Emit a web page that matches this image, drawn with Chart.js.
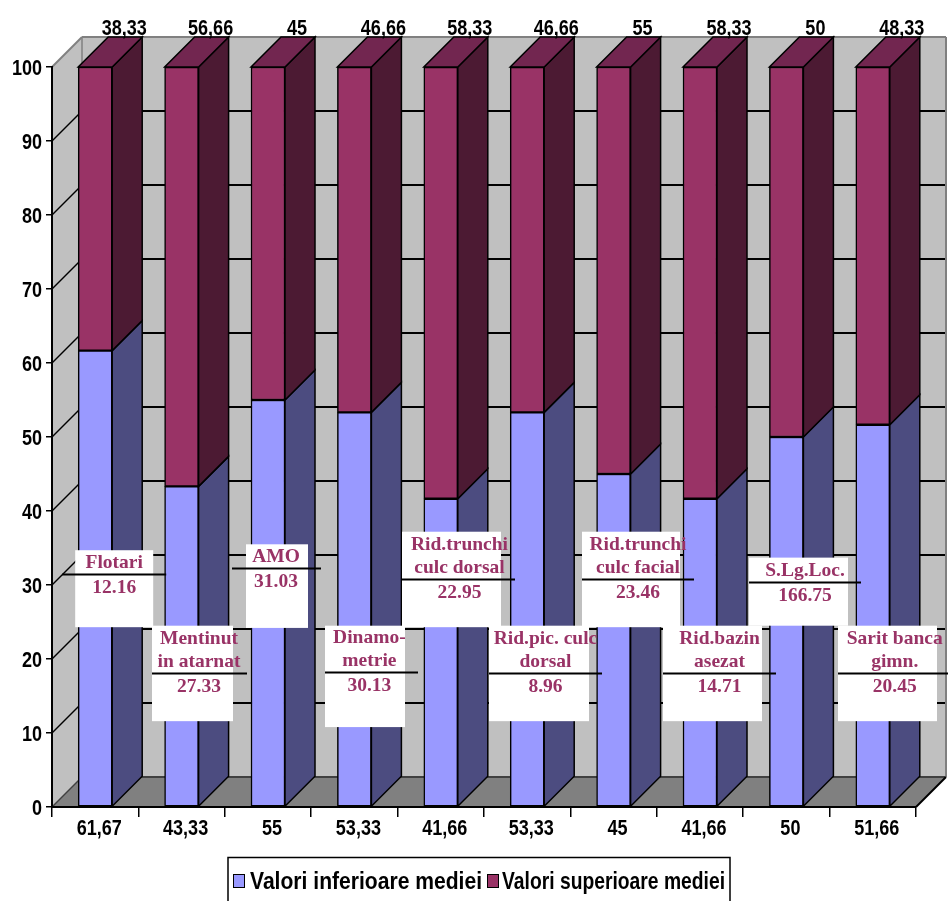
<!DOCTYPE html>
<html>
<head>
<meta charset="utf-8">
<script src="https://cdn.jsdelivr.net/npm/chart.js@4.4.1/dist/chart.umd.min.js"></script>
<style>
  html, body { margin: 0; padding: 0; background: #fff; }
  canvas { display: block; }
</style>
</head>
<body>
<canvas id="chart" width="948" height="901"></canvas>
<script>
// ---- data ----
const categories = ['61,67', '43,33', '55', '53,33', '41,66', '53,33', '45', '41,66', '50', '51,66'];
const lowerValues = [61.67, 43.33, 55, 53.33, 41.66, 53.33, 45, 41.66, 50, 51.66];
const upperValues = [38.33, 56.66, 45, 46.66, 58.33, 46.66, 55, 58.33, 50, 48.33];
const upperLabels = ['38,33', '56,66', '45', '46,66', '58,33', '46,66', '55', '58,33', '50', '48,33'];
const seriesNames = ['Valori inferioare mediei', 'Valori superioare mediei'];
const yMin = 0, yMax = 100, yStep = 10;

// test names and their mean results, one per category
const testNames = ['Flotari', 'Mentinut\nin atarnat', 'AMO', 'Dinamo-\nmetrie', 'Rid.trunchi\nculc dorsal',
  'Rid.pic. culc\ndorsal', 'Rid.trunchi\nculc facial', 'Rid.bazin\nasezat', 'S.Lg.Loc.', 'Sarit banca\ngimn.'];
const testMeans = ['12.16', '27.33', '31.03', '30.13', '22.95', '8.96', '23.46', '14.71', '166.75', '20.45'];

// ---- styling / layout ----
const DEPTH = 30;
const FRONT = ['#9999FF', '#993366'];
const SIDE = ['#4C4C80', '#4C1A33'];
const TOP_FACE = '#722650';
const SANS = '"Liberation Sans", Arial, sans-serif';
const SERIF = '"Liberation Serif", "Times New Roman", serif';
const NARROW_SCALE = 0.82;   // condensed look of the axis lettering
const NOTE_COLOR = '#993366';

// note boxes: dx/w/tx/lx in px from the category centre, top/bottom/line on the value axis
const noteLayout = [
  { dx: -20,   w: 78,  top: 34.7, bottom: 24.3, line: 31.5, lx1: -33,   lx2: 71,   tx: 19 },
  { dx: -29.6, w: 81,  top: 24.5, bottom: 11.6, line: 18.1, lx1: -29.6, lx2: 65.4, tx: 17.4 },
  { dx: -22,   w: 62,  top: 35.5, bottom: 24.2, line: 32.3, lx1: -36,   lx2: 53,   tx: 8 },
  { dx: -29.4, w: 80,  top: 24.5, bottom: 10.8, line: 18.2, lx1: -29.4, lx2: 63.6, tx: 15 },
  { dx: -38.8, w: 99,  top: 37.2, bottom: 24.3, line: 30.8, lx1: -38.8, lx2: 74.2, tx: 18.7 },
  { dx: -38.2, w: 100, top: 24.5, bottom: 11.6, line: 18.1, lx1: -38.2, lx2: 74.8, tx: 18.3 },
  { dx: -31.6, w: 98,  top: 37.2, bottom: 24.3, line: 30.8, lx1: -31.6, lx2: 80.4, tx: 24.4 },
  { dx: -37,   w: 99,  top: 24.5, bottom: 11.6, line: 18.1, lx1: -37,   lx2: 76,   tx: 19.5 },
  { dx: -37.4, w: 99,  top: 33.7, bottom: 24.5, line: 30.4, lx1: -37.4, lx2: 74.6, tx: 18.6 },
  { dx: -34.8, w: 99,  top: 24.5, bottom: 11.6, line: 18.1, lx1: -34.8, lx2: 75.2, tx: 21.9 }
];

function poly(ctx, pts, fill, stroke, lw) {
  ctx.beginPath();
  ctx.moveTo(pts[0][0], pts[0][1]);
  for (let i = 1; i < pts.length; i++) ctx.lineTo(pts[i][0], pts[i][1]);
  ctx.closePath();
  if (fill) { ctx.fillStyle = fill; ctx.fill(); }
  if (stroke) { ctx.strokeStyle = stroke; ctx.lineWidth = lw || 1.5; ctx.stroke(); }
}
function seg(ctx, x1, y1, x2, y2, color, lw) {
  ctx.beginPath();
  ctx.moveTo(x1, y1);
  ctx.lineTo(x2, y2);
  ctx.strokeStyle = color;
  ctx.lineWidth = lw;
  ctx.stroke();
}
// condensed bold lettering, anchored on the alphabetic baseline
function narrowText(ctx, text, x, y, align, size) {
  ctx.save();
  ctx.translate(x, y);
  ctx.scale(NARROW_SCALE, 1);
  ctx.font = 'bold ' + size + 'px ' + SANS;
  ctx.textAlign = align;
  ctx.textBaseline = 'alphabetic';
  ctx.fillStyle = '#000';
  ctx.fillText(text, 0, 0);
  ctx.restore();
}

// walls, floor and wall gridlines behind the bars
const sceneryPlugin = {
  id: 'scenery',
  beforeDraw(chart) {
    const { ctx, chartArea: a, scales: { y } } = chart;
    const d = DEPTH;
    ctx.save();
    ctx.fillStyle = '#C0C0C0';
    ctx.fillRect(a.left + d, a.top - d, a.right - a.left, a.bottom - a.top);
    poly(ctx, [[a.left, a.top], [a.left + d, a.top - d], [a.left + d, a.bottom - d], [a.left, a.bottom]], '#C0C0C0');
    poly(ctx, [[a.left, a.bottom], [a.right, a.bottom], [a.right + d, a.bottom - d], [a.left + d, a.bottom - d]], '#808080');
    for (let v = yMin; v < yMax; v += yStep) {
      const py = y.getPixelForValue(v);
      const c = v === yMin ? '#404040' : '#000';
      seg(ctx, a.left + d, py - d, a.right + d, py - d, c, 2);
      seg(ctx, a.left, py, a.left + d, py - d, c, 1.5);
    }
    // wall edges
    seg(ctx, a.left, a.top, a.left + d, a.top - d, '#808080', 2);
    seg(ctx, a.left + d, a.top - d, a.right + d, a.top - d, '#808080', 2);
    seg(ctx, a.right + d, a.top - d, a.right + d, a.bottom - d, '#808080', 2);
    seg(ctx, a.left + d, a.top - d, a.left + d, a.bottom - d, '#808080', 1.5);
    seg(ctx, a.right, a.bottom, a.right + d, a.bottom - d, '#000', 2);
    ctx.restore();
  }
};

// depth faces of the bars, axis lettering, value labels and the test notes
const overlayPlugin = {
  id: 'overlay',
  afterDatasetsDraw(chart) {
    const { ctx, chartArea: a, scales: { x, y } } = chart;
    const d = DEPTH;
    ctx.save();
    ctx.lineJoin = 'miter';
    const nSets = chart.data.datasets.length;
    for (let di = 0; di < nSets; di++) {
      const meta = chart.getDatasetMeta(di);
      meta.data.forEach((bar) => {
        const p = bar.getProps(['x', 'y', 'base', 'width'], true);
        const l = p.x - p.width / 2, r = p.x + p.width / 2;
        const t = Math.min(p.y, p.base), b = Math.max(p.y, p.base);
        poly(ctx, [[r, t], [r + d, t - d], [r + d, b - d], [r, b]], SIDE[di], '#000', 1.5);
        if (di === nSets - 1) {
          poly(ctx, [[l, t], [r, t], [r + d, t - d], [l + d, t - d]], TOP_FACE, '#000', 1.5);
        }
      });
    }

    // value axis labels
    y.ticks.forEach((t) => {
      narrowText(ctx, String(t.value), a.left - 10, y.getPixelForValue(t.value) + 8, 'right', 22);
    });
    // category labels
    categories.forEach((c, i) => {
      narrowText(ctx, c, x.getPixelForValue(i) + 4, a.bottom + 28, 'center', 22);
    });
    // upper series values above the bars
    const topMeta = chart.getDatasetMeta(nSets - 1);
    topMeta.data.forEach((bar, i) => {
      const p = bar.getProps(['x', 'y'], true);
      narrowText(ctx, upperLabels[i], p.x + d - 1, p.y - d - 2, 'center', 22);
    });

    // test notes
    ctx.font = 'bold 19.5px ' + SERIF;
    ctx.textAlign = 'center';
    ctx.textBaseline = 'middle';
    testNames.forEach((name, i) => {
      const L = noteLayout[i];
      const cx = x.getPixelForValue(i);
      const top = y.getPixelForValue(L.top), bottom = y.getPixelForValue(L.bottom);
      const ly = Math.round(y.getPixelForValue(L.line)) + 0.5;
      ctx.fillStyle = '#fff';
      ctx.fillRect(cx + L.dx, top, L.w, bottom - top);
      ctx.fillStyle = NOTE_COLOR;
      const lines = name.split('\n');
      lines.forEach((s, k) => {
        const off = (lines.length - 1 - k) * 23 + 12;
        ctx.fillText(s, cx + L.tx, ly - off);
      });
      ctx.fillText(testMeans[i], cx + L.tx, ly + 13);
      seg(ctx, cx + L.lx1, ly, cx + L.lx2, ly, '#000', 2);
    });
    ctx.restore();
  },
  afterDraw(chart) {
    const { ctx } = chart;
    ctx.save();
    // legend box
    ctx.strokeStyle = '#000';
    ctx.lineWidth = 1.5;
    ctx.strokeRect(228, 857.5, 502, 60);
    ctx.font = 'bold 24px ' + SANS;
    ctx.textBaseline = 'alphabetic';
    ctx.textAlign = 'left';
    const items = [{ mx: 233, tx: 250, tw: 232 }, { mx: 487, tx: 502, tw: 223 }];
    seriesNames.forEach((s, i) => {
      const it = items[i];
      ctx.fillStyle = FRONT[i];
      ctx.fillRect(it.mx, 874, 12, 14);
      ctx.lineWidth = 1;
      ctx.strokeRect(it.mx + 0.5, 874.5, 11, 13);
      ctx.fillStyle = '#000';
      ctx.fillText(s, it.tx, 889, it.tw);
    });
    ctx.restore();
  }
};

new Chart(document.getElementById('chart'), {
  type: 'bar',
  data: {
    labels: categories,
    datasets: [
      { label: seriesNames[0], data: lowerValues, backgroundColor: FRONT[0] },
      { label: seriesNames[1], data: upperValues, backgroundColor: FRONT[1] }
    ]
  },
  options: {
    responsive: false,
    animation: false,
    devicePixelRatio: 1,
    layout: { padding: { top: 67, right: 32, left: 0, bottom: 0 } },
    datasets: {
      bar: { borderColor: '#000', borderWidth: 1.5, borderSkipped: false, barThickness: 34 }
    },
    plugins: { legend: { display: false }, tooltip: { enabled: false } },
    scales: {
      x: {
        stacked: true,
        afterFit(s) { s.height = 94; },
        grid: { drawOnChartArea: false, offset: true, tickLength: 10, color: '#000', lineWidth: 1.5 },
        border: { color: '#000', width: 2 },
        ticks: { display: false, autoSkip: false }
      },
      y: {
        stacked: true,
        min: yMin, max: yMax,
        afterFit(s) { s.width = 52; },
        grid: { drawOnChartArea: false, tickLength: 6, color: '#000', lineWidth: 1.5 },
        border: { color: '#000', width: 2 },
        ticks: { display: false, stepSize: yStep }
      }
    }
  },
  plugins: [sceneryPlugin, overlayPlugin]
});
</script>
</body>
</html>
